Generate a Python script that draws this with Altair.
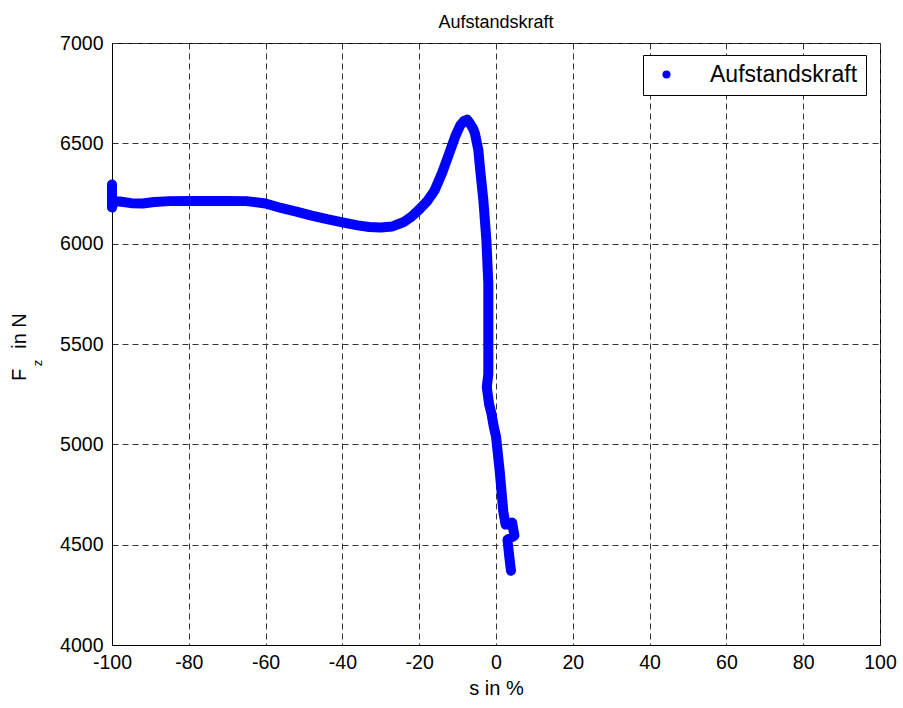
import altair as alt
import pandas as pd

# slip s in % and vertical force F_z in N
s_vals = [-100, -100, -99.6, -98, -95, -92, -89, -85, -80, -75, -70, -65, -60, -56, -52,
          -48, -44, -40, -36, -33, -30, -27, -24, -22, -20, -18, -16, -14, -12, -10.5,
          -9.3, -8.3, -7.5, -6.8, -6, -5.5, -4.6, -4.2, -3.3, -2.5, -2.0, -2.0, -2.0,
          -2.4, -1.8, -1.2, -0.6, 0.0, 1.0, 1.9, 2.5, 4.2, 4.8, 3.0, 3.4, 3.9]
F_vals = [6295, 6180, 6212, 6210, 6202, 6200, 6208, 6212, 6213, 6213, 6213, 6212, 6200, 6178, 6160,
          6140, 6122, 6106, 6091, 6083, 6081, 6086, 6108, 6135, 6170, 6210, 6265, 6355, 6460, 6540,
          6590, 6612, 6618, 6600, 6575, 6550, 6467, 6384, 6218, 6018, 5800, 5500, 5350,
          5285, 5200, 5155, 5090, 5040, 4860, 4665, 4600, 4610, 4545, 4525, 4450, 4370]
series_name = "Aufstandskraft"
x_ticks = [-100, -80, -60, -40, -20, 0, 20, 40, 60, 80, 100]
y_ticks = [4000, 4500, 5000, 5500, 6000, 6500, 7000]
title_text = "Aufstandskraft"
x_title = "s in %"
y_title_main = ["F"]
y_title_sub = ["z"]
y_title_rest = ["in N"]

df = pd.DataFrame({"i": list(range(len(s_vals))), "s": s_vals, "F": F_vals,
                   "series": [series_name] * len(s_vals)})

FONT = "Liberation Sans"
BLUE = "#0000ff"

xenc = alt.X("s:Q", scale=alt.Scale(domain=[-100, 100], nice=False, zero=False),
             axis=alt.Axis(values=x_ticks, title=x_title, labelExpr="'' + datum.value",
                           grid=True, ticks=False, labelPadding=8, titlePadding=7,
                           labelFlush=False, labelOverlap=False))
yenc = alt.Y("F:Q", scale=alt.Scale(domain=[4000, 7000], nice=False, zero=False),
             axis=alt.Axis(values=y_ticks, title="", labelExpr="'' + datum.value",
                           grid=True, ticks=False, labelPadding=9,
                           labelFlush=False, labelOverlap=False))

line = alt.Chart(df).mark_line(strokeWidth=10, strokeCap="round", strokeJoin="round",
                               color=BLUE).encode(x=xenc, y=yenc, order="i:Q")

pts = alt.Chart(df).mark_point(filled=True, size=78, opacity=1).encode(
    x=alt.X("s:Q"), y=alt.Y("F:Q"),
    color=alt.Color("series:N", scale=alt.Scale(range=[BLUE]), title=None,
                    legend=alt.Legend(orient="none", legendX=531, legendY=12,
                                      symbolType="circle", symbolSize=65,
                                      symbolOffset=4, labelOffset=32,
                                      labelFontSize=23, labelFont=FONT,
                                      labelColor="black", padding=8,
                                      strokeColor="black", fillColor="white")))

t1 = alt.Chart(pd.DataFrame({"t": y_title_main})).mark_text(
    angle=270, font=FONT, fontSize=20, align="center", baseline="middle", color="black"
).encode(x=alt.value(-92), y=alt.value(332), text="t:N")
t2 = alt.Chart(pd.DataFrame({"t": y_title_sub})).mark_text(
    angle=270, font=FONT, fontSize=13, align="center", baseline="middle", color="black"
).encode(x=alt.value(-74), y=alt.value(320), text="t:N")
t3 = alt.Chart(pd.DataFrame({"t": y_title_rest})).mark_text(
    angle=270, font=FONT, fontSize=20, align="center", baseline="middle", color="black"
).encode(x=alt.value(-92), y=alt.value(288), text="t:N")

chart = alt.layer(line, pts, t1, t2, t3).properties(
    width=768, height=602,
    background="white",
    title=alt.TitleParams(title_text, font=FONT, fontSize=18, fontWeight="normal",
                          color="black", anchor="middle", offset=5, dy=4),
    autosize=alt.AutoSizeParams(type="none"),
    padding={"left": 112, "top": 43, "right": 23, "bottom": 63},
).configure_view(stroke="black", strokeWidth=1).configure_axis(
    labelFont=FONT, labelFontSize=19.5, labelColor="black",
    titleFont=FONT, titleFontSize=20, titleColor="black", titleFontWeight="normal",
    domainColor="black", gridColor="#333333", gridDash=[6, 4], gridOpacity=1, gridWidth=1
).configure_title(font=FONT, fontSize=18, fontWeight="normal", color="black")

chart.save("out.html", embed_options={"renderer": "svg", "actions": False})
